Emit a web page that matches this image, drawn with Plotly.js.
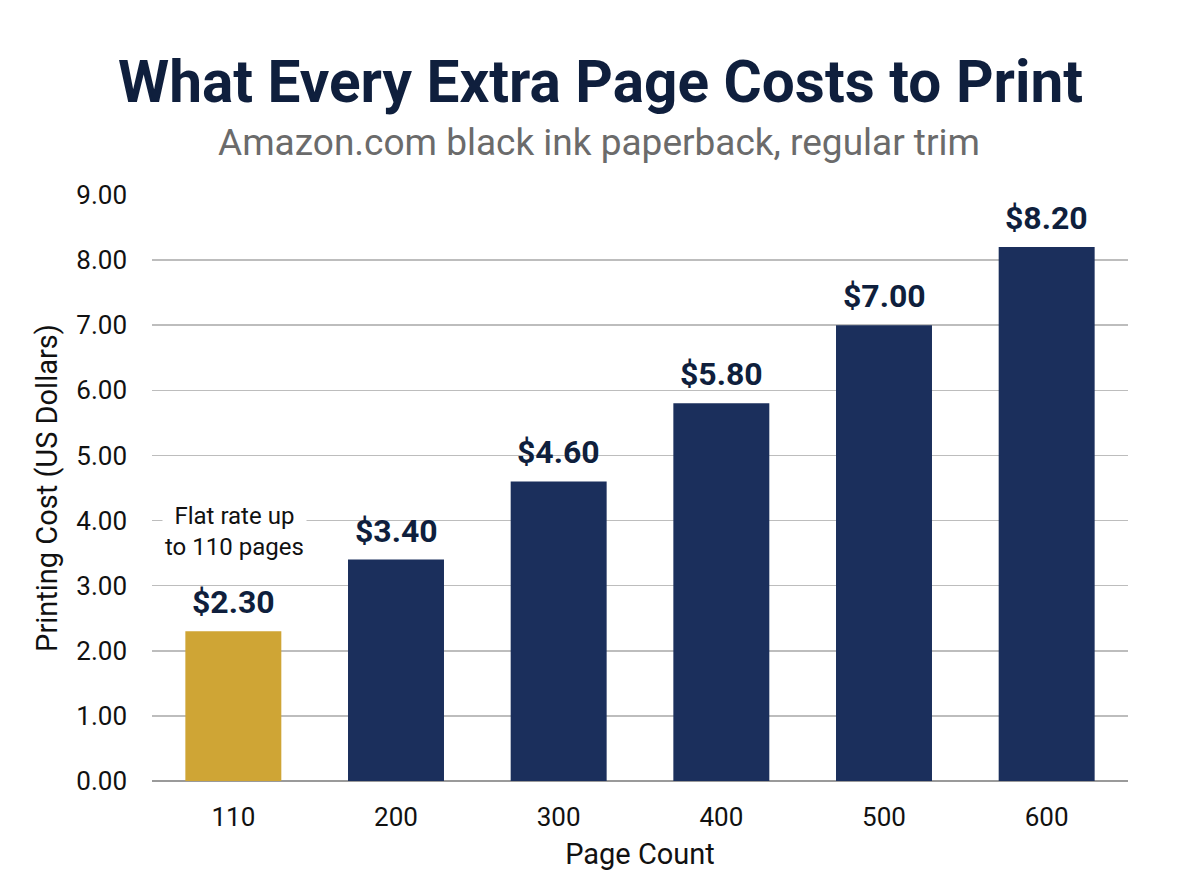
<!DOCTYPE html>
<html>
<head>
<meta charset="utf-8">
<script src="https://cdn.plot.ly/plotly-3.0.1.min.js"></script>
<style>
  html, body { margin: 0; padding: 0; background: #ffffff; }
  #chart { width: 1200px; height: 896px; }
</style>
</head>
<body>
<div id="chart"></div>
<script>
// Page counts and printing cost (USD)
const pageCounts = ['110', '200', '300', '400', '500', '600'];
const costs = [2.30, 3.40, 4.60, 5.80, 7.00, 8.20];
const yTicks = [0, 1, 2, 3, 4, 5, 6, 7, 8, 9];

const GOLD = '#CFA535';
const NAVY = '#1B2F5C';
const INK = '#0F1F3D';

// first bar is the flat rate, the rest are navy
const barColors = costs.map((c, i) => i === 0 ? GOLD : NAVY);

const bars = {
  x: pageCounts,
  y: costs,
  type: 'bar',
  marker: {color: barColors},
  hoverinfo: 'x+y'
};

// value labels above each bar (x given as category index)
let annotations = costs.map((c, i) => ({
  x: i, y: c,
  xref: 'x', yref: 'y',
  text: '$' + c.toFixed(2),
  showarrow: false,
  yanchor: 'bottom',
  yshift: 8,
  font: {family: 'Roboto', size: 32, color: INK, weight: 700}
}));

annotations.push({
  x: 0, y: costs[0],
  xref: 'x', yref: 'y',
  text: 'Flat rate up<br>to 110 pages',
  showarrow: false,
  yanchor: 'bottom',
  yshift: 67,
  xshift: 1,
  bgcolor: '#ffffff',
  borderpad: 2,
  font: {family: 'Roboto', size: 24, color: '#111111'}
});

// title and subtitle, centred on the page rather than the plot area
annotations.push({
  text: '<b>What Every Extra Page Costs to Print</b>',
  xref: 'paper', yref: 'paper', x: 0.5, y: 1, yshift: 113, xshift: -40,
  xanchor: 'center', yanchor: 'middle', showarrow: false,
  font: {family: 'Roboto', size: 58.5, color: INK}
});
annotations.push({
  text: 'Amazon.com black ink paperback, regular trim',
  xref: 'paper', yref: 'paper', x: 0.5, y: 1, yshift: 53, xshift: -41,
  xanchor: 'center', yanchor: 'middle', showarrow: false,
  font: {family: 'Roboto', size: 37, color: '#6b6b6b'}
});

const layout = {
  width: 1200,
  height: 896,
  margin: {l: 152, r: 72, t: 195, b: 115},
  paper_bgcolor: '#ffffff',
  plot_bgcolor: '#ffffff',
  bargap: 0.41,
  showlegend: false,
  font: {family: 'Roboto', color: '#111111'},
  xaxis: {
    type: 'category',
    range: [-0.5, pageCounts.length - 0.5],
    showgrid: false,
    showline: false,
    ticks: '',
    ticklabelstandoff: 18,
    tickfont: {size: 26, color: '#111111'},
    title: {text: 'Page Count', font: {size: 29, color: '#111111'}, standoff: 12}
  },
  yaxis: {
    range: [0, 9],
    tickvals: yTicks,
    tickformat: '.2f',
    showgrid: true,
    gridcolor: '#bdbdbd',
    gridwidth: 1.5,
    zeroline: true,
    zerolinecolor: '#9a9a9a',
    zerolinewidth: 1.5,
    showline: false,
    ticks: '',
    ticklabelstandoff: 24,
    tickfont: {size: 26, color: '#111111'},
    title: {text: 'Printing Cost (US Dollars)', font: {size: 29, color: '#111111'}, standoff: 10}
  },
  annotations: annotations
};

Plotly.newPlot('chart', [bars], layout, {staticPlot: true});
</script>
</body>
</html>
